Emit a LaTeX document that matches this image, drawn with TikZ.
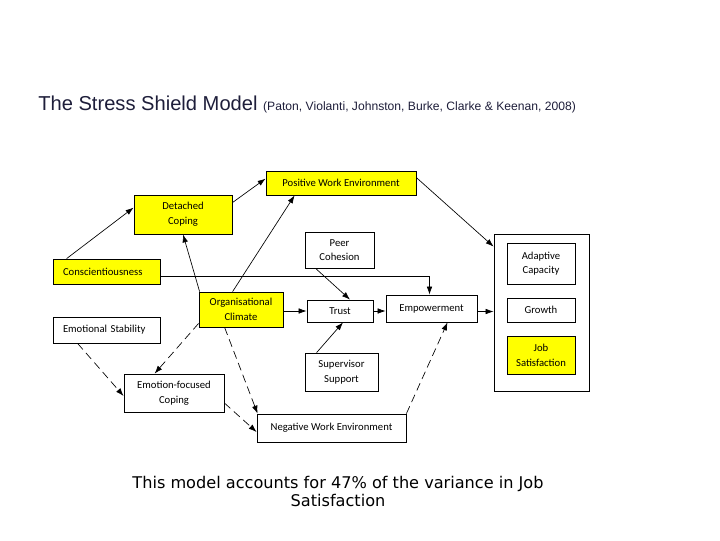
\documentclass[tikz,border=0pt]{standalone}
\usepackage{fontspec}
\setmainfont{Carlito}
\newfontfamily\headfont{Liberation Sans}
\newfontfamily\notefont{DejaVu Sans}
\usetikzlibrary{arrows.meta}
\definecolor{boxyellow}{RGB}{255,255,0}
\definecolor{titleblue}{RGB}{30,30,58}

\begin{document}
\begin{tikzpicture}[x=0.75pt,y=-0.75pt,
	box/.style={draw,line width=0.6pt,inner sep=1pt,align=center,font=\fontsize{8}{11}\selectfont},
	yellowbox/.style={box,fill=boxyellow},
	boxsize/.style 2 args={minimum width=#1*0.75pt,minimum height=#2*0.75pt},
	leftbox/.style={inner xsep=10*0.75pt,text width=87*0.75pt,align=left},
	link/.style={line width=0.5pt,-{Latex[length=6pt,width=4.2pt]}},
	dashlink/.style={link,dash pattern=on 6pt off 3.5pt}]
	\useasboundingbox (0,0) rectangle (720,540);

	% title and note
	\node[anchor=base west,inner sep=0,text=titleblue,font=\headfont\fontsize{15.1}{18}\selectfont] (title) at (38,110)
		{The Stress Shield Model {\fontsize{9.1}{11}\selectfont (Paton, Violanti, Johnston, Burke, Clarke \& Keenan, 2008)}};
	\node[align=center,font=\notefont\fontsize{12.1}{13.5}\selectfont] (note) at (338,491)
		{This model accounts for 47\% of the variance in Job\\Satisfaction};

	% boxes
	\node[yellowbox,boxsize={150}{24}] (pwe) at (341,183) {Positive Work Environment};
	\node[yellowbox,boxsize={98}{39}] (detached) at (183,214.5) {Detached\\Coping};
	\node[box,boxsize={69}{36}] (peer) at (339.5,250) {Peer\\Cohesion};
	\node[yellowbox,leftbox,boxsize={107}{25}] (consc) at (106.5,271.5) {Conscientiousness};
	\node[yellowbox,boxsize={84}{35}] (orgclimate) at (241,309.5) {Organisational\\Climate};
	\node[box,boxsize={66}{22}] (trust) at (340,311) {Trust};
	\node[box,boxsize={91}{27}] (empower) at (431.5,308.5) {Empowerment};
	\node[box,leftbox,boxsize={107}{26}] (emostab) at (106.5,330) {Emotional Stability};
	\node[box,boxsize={100}{38}] (efc) at (174,393) {Emotion-focused\\Coping};
	\node[box,boxsize={73}{38}] (supervisor) at (341.5,372) {Supervisor\\Support};
	\node[box,boxsize={149}{28}] (nwe) at (331.5,428) {Negative Work Environment};

	% outcomes
	\node[box,boxsize={95}{157}] (outcome) at (541.5,312.5) {};
	\node[box,boxsize={68}{41}] (adaptive) at (541,263.5) {Adaptive\\Capacity};
	\node[box,boxsize={68}{24}] (growth) at (541,310) {Growth};
	\node[yellowbox,boxsize={68}{38}] (jobsat) at (541,355) {Job\\Satisfaction};

	% solid paths
	\draw[link] ([shift={(14,0)}]consc.north west) -- ([shift={(0,13)}]detached.north west);
	\draw[link] ([shift={(0,8)}]detached.north east) -- ([shift={(0,8)}]pwe.north west);
	\draw[link] ([shift={(1,0)}]orgclimate.north west) -- (detached.south);
	\draw[link] ([shift={(34,0)}]orgclimate.north west) -- ([shift={(29,0)}]pwe.south west);
	\draw[link] ([shift={(0,4.5)}]consc.east) -| ([shift={(-2,0)}]empower.north);
	\draw[link] ([shift={(11,0)}]peer.south west) -- ([shift={(10,0)}]trust.north);
	\draw[link] (orgclimate.east |- trust.west) -- (trust.west);
	\draw[link] (trust.east) -- (trust.east -| empower.west);
	\draw[link] ([shift={(0,3)}]empower.east) -- ([shift={(0,3)}]empower.east -| outcome.west);
	\draw[link] ([shift={(12,0)}]supervisor.north west) -- ([shift={(3,0)}]trust.south);
	\draw[link] ([shift={(0,7)}]pwe.north east) -- ([shift={(0,13)}]outcome.north west);

	% dashed paths
	\draw[dashlink] ([shift={(0,-4)}]orgclimate.south west) -- ([shift={(31,0)}]efc.north west);
	\draw[dashlink] ([shift={(25,0)}]emostab.south west) -- ([shift={(0,3)}]efc.west);
	\draw[dashlink] ([shift={(26,0)}]orgclimate.south west) -- ([shift={(1,0)}]nwe.north west);
	\draw[dashlink] ([shift={(0,10)}]efc.east) -- ([shift={(0,4)}]nwe.west);
	\draw[dashlink] (nwe.north east) -- ([shift={(16,0)}]empower.south);
\end{tikzpicture}
\end{document}
